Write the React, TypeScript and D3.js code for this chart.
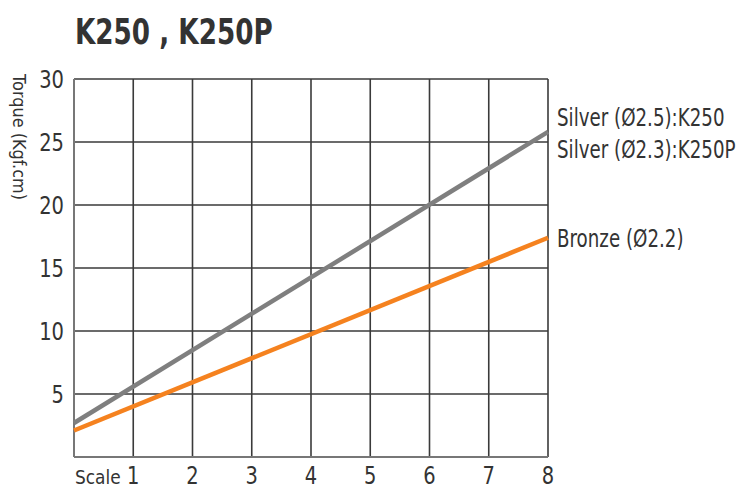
import * as d3 from "d3"
import React from "react"

// scale position vs torque (kgf.cm)
const scaleSteps = [0, 8]
const silverTorque = [2.7, 25.8]
const bronzeTorque = [2.1, 17.4]
const xTicks = [1, 2, 3, 4, 5, 6, 7, 8]
const yTicks = [5, 10, 15, 20, 25, 30]
const seriesLabels = ["Silver (Ø2.5):K250", "Silver (Ø2.3):K250P", "Bronze (Ø2.2)"]

const width = 749
const height = 490
const margin = { top: 79, right: 201, bottom: 33, left: 74 }
const font = "'DejaVu Sans', 'Noto Sans', sans-serif"

// condensed text: the original uses a narrow face, so squeeze horizontally
const CText = ({ x, y, size, sx = 0.78, anchor = "start", weight = "normal", children }: any) => (
  <text transform={`translate(${x},${y}) scale(${sx},1)`} fontFamily={font} fontSize={size}
    fontWeight={weight} textAnchor={anchor} fill="#333">{children}</text>
)

const App = () => {
  const x = d3.scaleLinear().domain([0, 8]).range([margin.left, width - margin.right])
  const y = d3.scaleLinear().domain([0, 30]).range([height - margin.bottom, margin.top])

  const line = d3.line<number>()
    .x((_, i) => x(scaleSteps[i]))
    .y(d => y(d))

  return (
    <svg width={width} height={height} viewBox={`0 0 ${width} ${height}`}
      style={{ position: "absolute", left: 0, top: 0, background: "#fff" }}>
      <CText x={75} y={44} size={35} sx={0.75} weight="bold">K250 , K250P</CText>

      {/* grid */}
      <g stroke="#3a3a3a" strokeWidth={1.6}>
        {xTicks.map(t => (
          <line key={t} x1={x(t)} x2={x(t)} y1={y(30)} y2={y(0)} />
        ))}
        {yTicks.map(t => (
          <line key={t} x1={x(0)} x2={x(8)} y1={y(t)} y2={y(t)} />
        ))}
        <line x1={x(0)} x2={x(0)} y1={y(30)} y2={y(0)} stroke="#777" strokeWidth={2} />
        <line x1={x(0)} x2={x(8)} y1={y(0)} y2={y(0)} stroke="#777" strokeWidth={2} />
      </g>

      {/* series */}
      <path d={line(silverTorque) ?? ""} fill="none" stroke="#7f7f7f" strokeWidth={4.5} />
      <path d={line(bronzeTorque) ?? ""} fill="none" stroke="#f5821f" strokeWidth={4.5} />

      {/* y tick labels */}
      {yTicks.map(t => (
        <CText key={t} x={margin.left - 10} y={y(t) + 9} size={25} anchor="end">{t}</CText>
      ))}

      {/* x tick labels */}
      {xTicks.map(t => (
        <CText key={t} x={x(t)} y={484} size={25} anchor="middle">{t}</CText>
      ))}
      <CText x={75} y={484} size={20} sx={0.85}>Scale</CText>

      <text transform={`translate(13,74) rotate(90)`} fontFamily={font} fontSize={18}
        textLength={126} lengthAdjust="spacingAndGlyphs" fill="#333">Torque (Kgf.cm)</text>

      {/* series labels */}
      <CText x={557} y={126} size={25} sx={0.73}>{seriesLabels[0]}</CText>
      <CText x={557} y={158} size={25} sx={0.73}>{seriesLabels[1]}</CText>
      <CText x={557} y={247} size={25} sx={0.73}>{seriesLabels[2]}</CText>
    </svg>
  )
}

export default App
